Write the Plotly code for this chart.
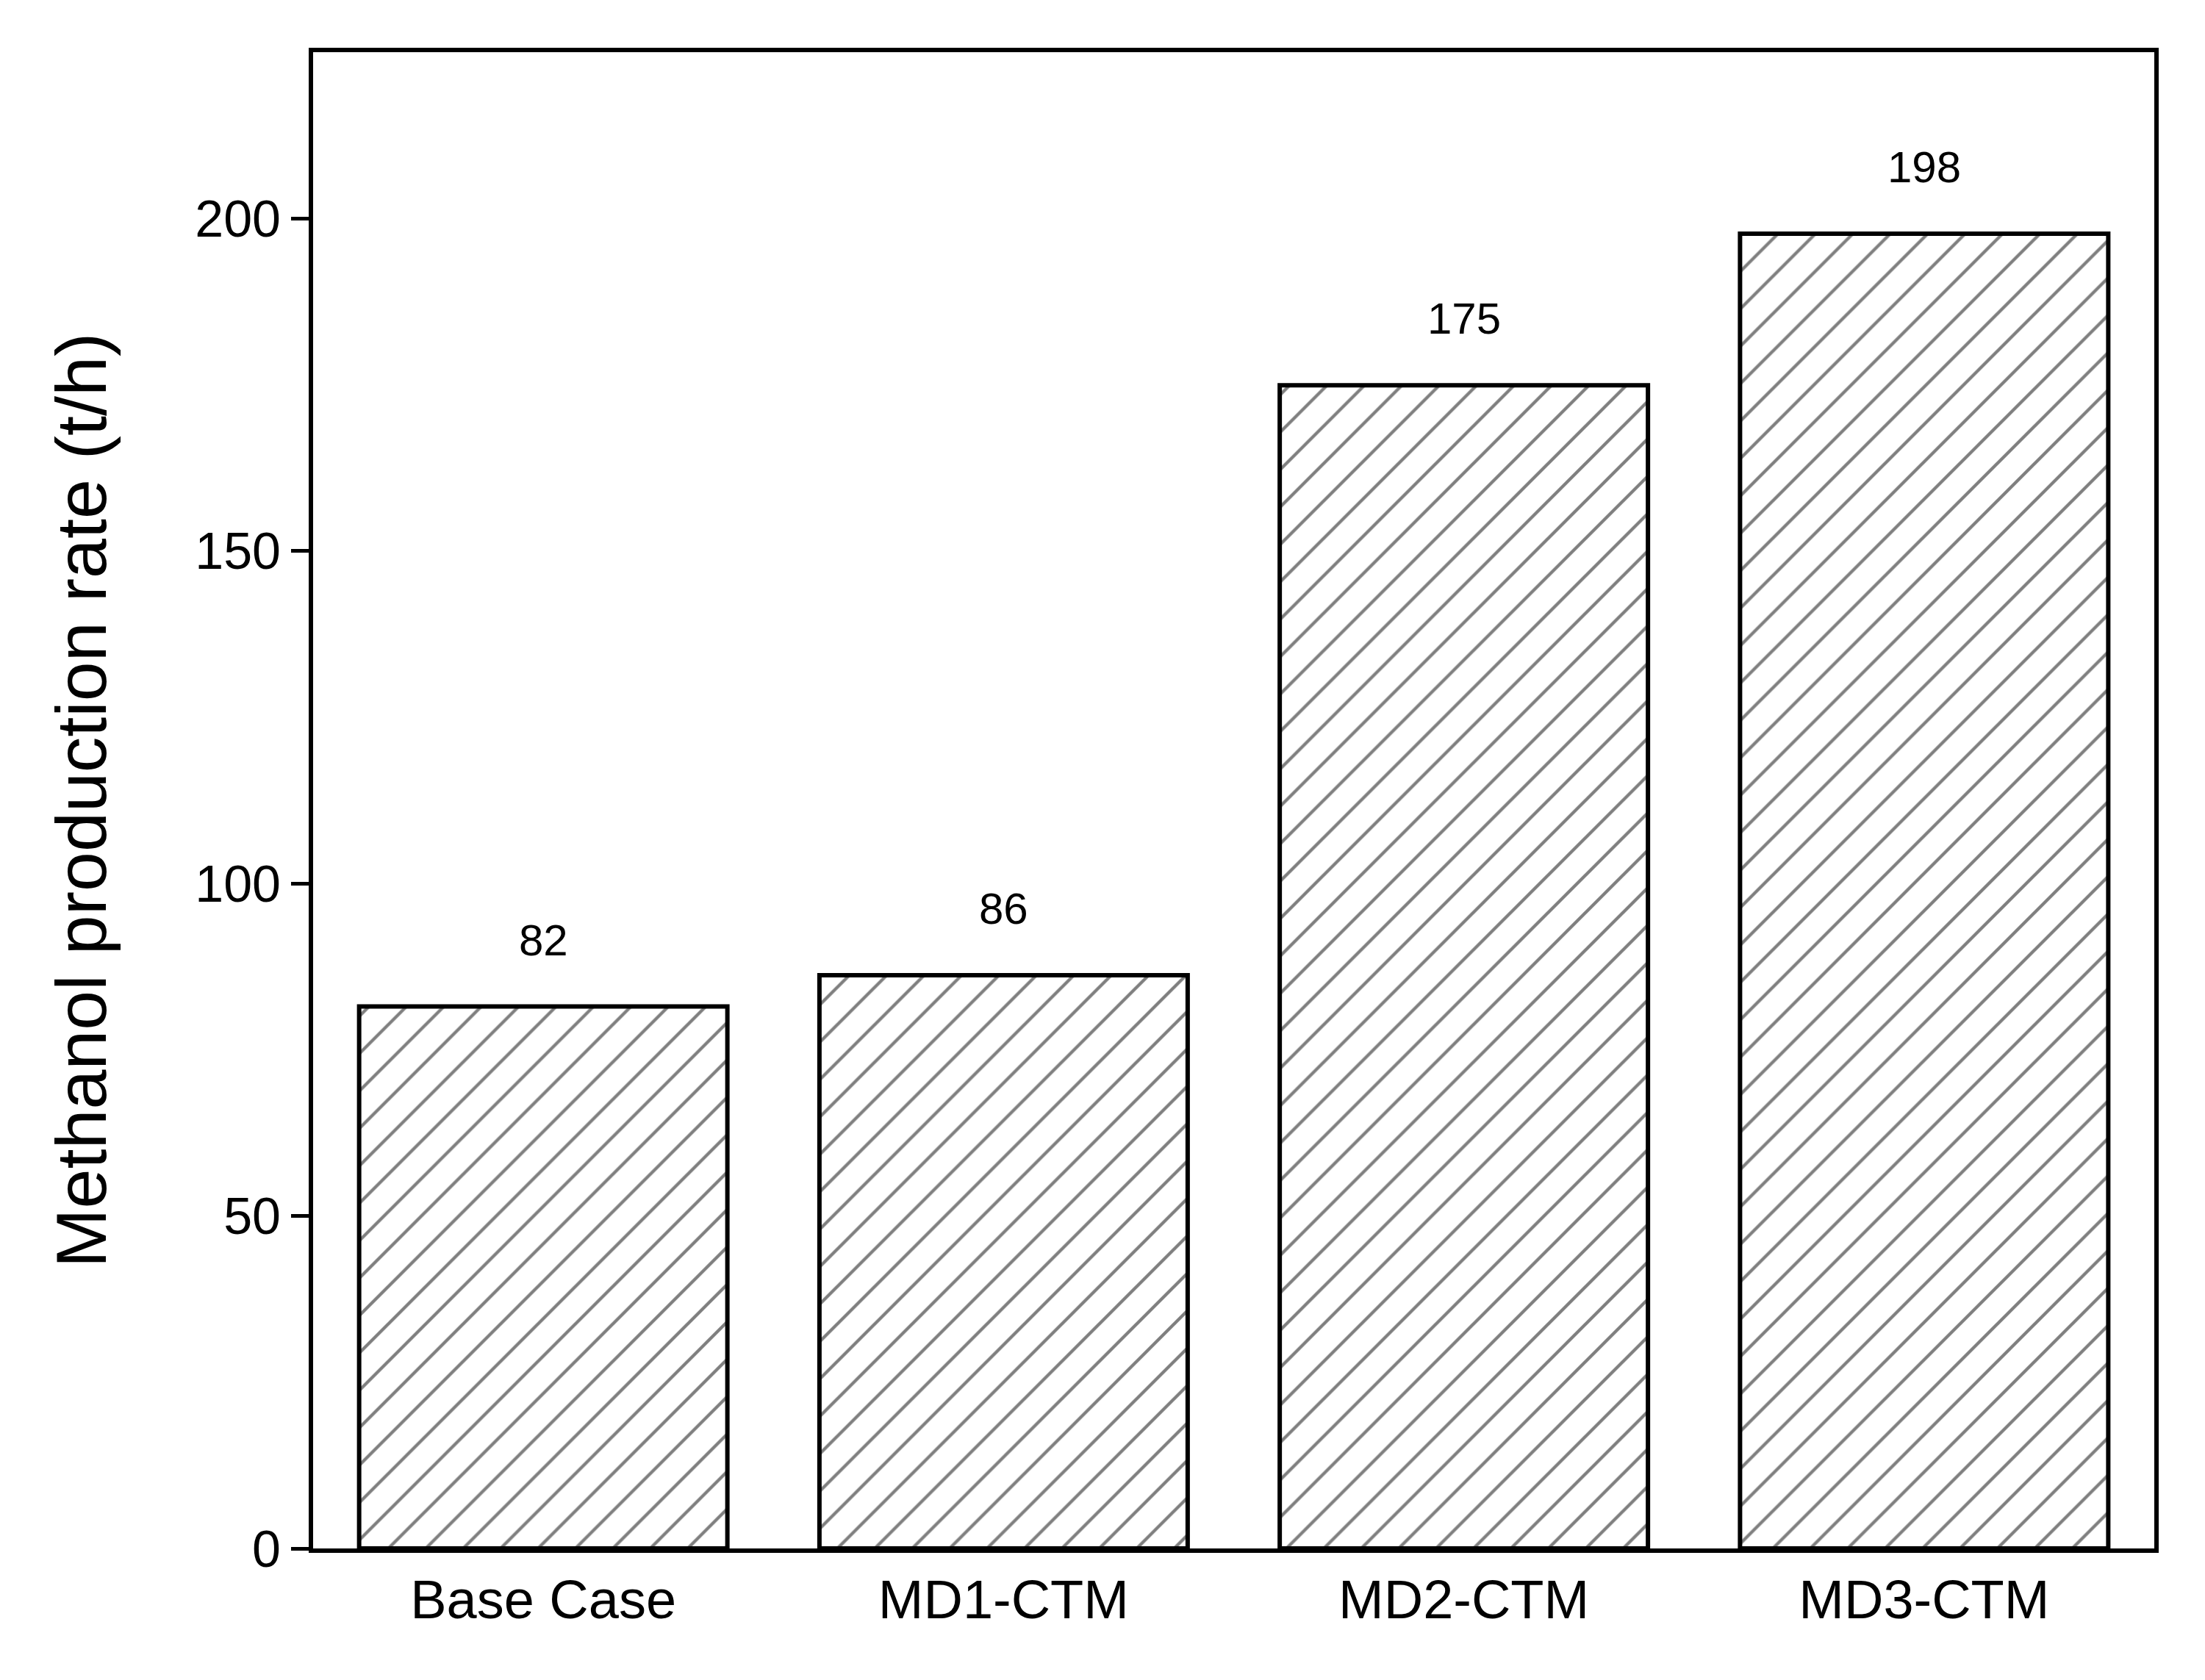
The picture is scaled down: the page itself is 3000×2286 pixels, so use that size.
import plotly.graph_objects as go

categories = ["Base Case", "MD1-CTM", "MD2-CTM", "MD3-CTM"]
values = [82, 86, 175, 198]
shown = [81.5, 86.2, 174.9, 197.7]
tick_vals = [0, 50, 100, 150, 200]

font = "Liberation Sans, Arial, sans-serif"
fig = go.Figure(go.Bar(
    x=categories, y=shown, width=0.8,
    marker=dict(color="white", line=dict(color="black", width=6),
                pattern=dict(shape="/", fgcolor="black", bgcolor="white", size=36, solidity=0.12)),
))
for c, v, s in zip(categories, values, shown):
    fig.add_annotation(x=c, y=s, text=str(v), showarrow=False, yanchor="bottom", yshift=55,
                       font=dict(family=font, size=60, color="black"))

fig.update_layout(
    width=3000, height=2286, paper_bgcolor="white", plot_bgcolor="white",
    margin=dict(l=418, r=77, t=63, b=187), showlegend=False,
    font=dict(family=font, color="black"),
)
fig.update_xaxes(range=[-0.5, 3.5], showline=True, mirror=True, linecolor="black", linewidth=6,
                 ticks="", tickfont=dict(size=74, family=font, color="black"), showgrid=False)
fig.update_yaxes(range=[0, 225], tickvals=tick_vals, showline=True, mirror=True, linecolor="black",
                 linewidth=6, ticks="outside", ticklen=24, tickwidth=5, tickcolor="black",
                 tickfont=dict(size=70, family=font, color="black"), showgrid=False, zeroline=False,
                 title=dict(text="Methanol production rate (t/h)", font=dict(size=97, family=font, color="black"), standoff=90))
fig.write_html("out.html")
